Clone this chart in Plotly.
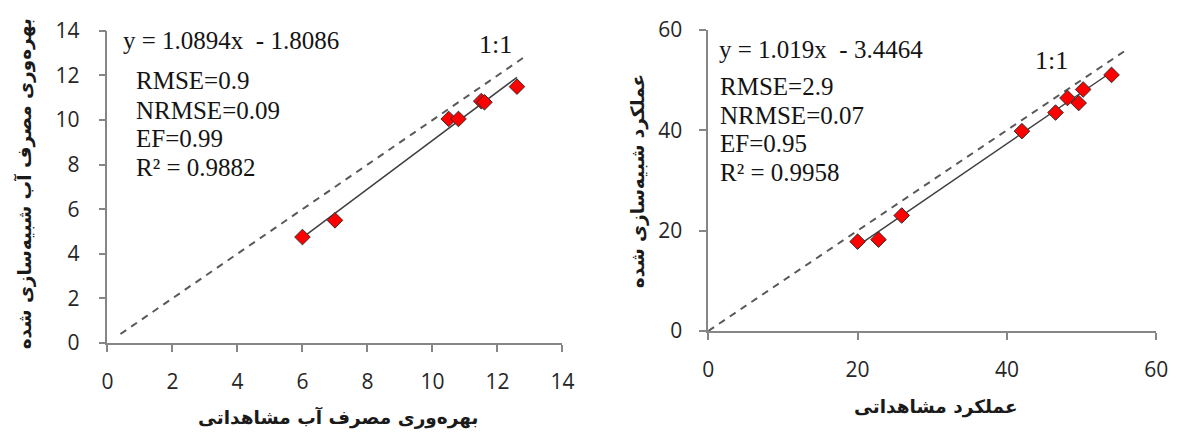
import plotly.graph_objects as go

W, H = 1191, 444

# ---------------- data ----------------
# Left panel: water productivity (observed vs simulated)
wp_obs = [6.0, 7.0, 10.5, 10.8, 11.5, 11.6, 12.6]
wp_sim = [4.75, 5.5, 10.05, 10.05, 10.85, 10.8, 11.5]
wp_slope, wp_intercept = 1.0894, -1.8086
wp_one_to_one = [0.4, 12.9]
wp_equation = "y = 1.0894x\u00a0 - 1.8086"
wp_stats = ["RMSE=0.9", "NRMSE=0.09", "EF=0.99", "R² = 0.9882"]
wp_ticks = [0, 2, 4, 6, 8, 10, 12, 14]
wp_xtitle = "بهره‌وری مصرف آب مشاهداتی"
wp_ytitle = "بهره‌وری مصرف آب شبیه‌سازی شده"

# Right panel: yield (observed vs simulated)
yl_obs = [20.0, 22.8, 25.9, 42.0, 46.5, 48.1, 49.6, 50.2, 54.0]
yl_sim = [17.8, 18.2, 23.0, 39.8, 43.5, 46.4, 45.4, 48.1, 51.0]
yl_slope, yl_intercept = 1.019, -3.4464
yl_one_to_one = [0.0, 56.0]
yl_equation = "y = 1.019x\u00a0 - 3.4464"
yl_stats = ["RMSE=2.9", "NRMSE=0.07", "EF=0.95", "R² = 0.9958"]
yl_ticks = [0, 20, 40, 60]
yl_xtitle = "عملکرد مشاهداتی"
yl_ytitle = "عملکرد شبیه‌سازی شده"

one_label = "1:1"

# ---------------- styles ----------------
SERIF = "Liberation Serif"
TICKFONT = dict(family="Open Sans", size=21, color="#262626")
AXIS_LINE = "#868686"
TXT = "#141414"


def trend(xs, slope, intercept):
    x0, x1 = min(xs), max(xs)
    return [x0, x1], [slope * x0 + intercept, slope * x1 + intercept]


fig = go.Figure()


def add_panel(obs, sim, slope, intercept, one, xa, ya):
    fig.add_trace(go.Scatter(x=one, y=one, mode="lines",
                             line=dict(color="#595959", width=2, dash="7px,6px"),
                             xaxis=xa, yaxis=ya, showlegend=False, hoverinfo="skip"))
    tx, ty = trend(obs, slope, intercept)
    fig.add_trace(go.Scatter(x=tx, y=ty, mode="lines",
                             line=dict(color="#404040", width=1.5),
                             xaxis=xa, yaxis=ya, showlegend=False, hoverinfo="skip"))
    fig.add_trace(go.Scatter(x=obs, y=sim, mode="markers",
                             marker=dict(symbol="diamond", size=12, color="#ff0000",
                                         line=dict(color="#303030", width=1)),
                             xaxis=xa, yaxis=ya, showlegend=False, cliponaxis=False))


add_panel(wp_obs, wp_sim, wp_slope, wp_intercept, wp_one_to_one, "x", "y")
add_panel(yl_obs, yl_sim, yl_slope, yl_intercept, yl_one_to_one, "x2", "y2")


def px_x(p):
    return p / W


def px_y(p):
    return 1 - p / H


axis_common = dict(showgrid=False, zeroline=False, showline=True, linecolor=AXIS_LINE,
                   linewidth=1.5, ticks="outside", tickcolor=AXIS_LINE, ticklen=7,
                   tickwidth=1.5, tickfont=TICKFONT, tickmode="array")

fig.update_layout(
    width=W, height=H,
    margin=dict(l=0, r=0, t=0, b=0),
    paper_bgcolor="white", plot_bgcolor="white",
    xaxis=dict(axis_common, domain=[px_x(103), px_x(565)], range=[0, 14],
               tickvals=wp_ticks, anchor="y", ticklabelstandoff=12),
    yaxis=dict(axis_common, domain=[px_y(350), px_y(17)], range=[0, 14],
               tickvals=wp_ticks, anchor="x", ticklabelstandoff=15),
    xaxis2=dict(axis_common, domain=[px_x(713), px_x(1168)], range=[0, 60],
                tickvals=yl_ticks, anchor="y2", ticklabelstandoff=12),
    yaxis2=dict(axis_common, domain=[px_y(337.3), px_y(15.7)], range=[0, 60],
                tickvals=yl_ticks, anchor="x2", ticklabelstandoff=13),
)

STATFONT = dict(family=SERIF, size=25, color=TXT)
ONEFONT = dict(family=SERIF, size=26, color=TXT)

ann = []
# left panel texts
ann.append(dict(x=0.42, y=13.58, xref="x", yref="y", text=wp_equation, showarrow=False,
                xanchor="left", yanchor="middle", font=STATFONT))
for s, yy in zip(wp_stats, [11.77, 10.42, 9.16, 7.86]):
    ann.append(dict(x=0.82, y=yy, xref="x", yref="y", text=s, showarrow=False,
                    xanchor="left", yanchor="middle", font=STATFONT))
ann.append(dict(x=11.95, y=13.41, xref="x", yref="y", text=one_label, showarrow=False,
                xanchor="center", yanchor="middle", font=ONEFONT))
# right panel texts
ann.append(dict(x=1.19, y=56.0, xref="x2", yref="y2", text=yl_equation, showarrow=False,
                xanchor="left", yanchor="middle", font=STATFONT))
for s, yy in zip(yl_stats, [48.6, 43.0, 37.4, 31.6]):
    ann.append(dict(x=1.3, y=yy, xref="x2", yref="y2", text=s, showarrow=False,
                    xanchor="left", yanchor="middle", font=STATFONT))
ann.append(dict(x=46.0, y=53.8, xref="x2", yref="y2", text=one_label, showarrow=False,
                xanchor="center", yanchor="middle", font=ONEFONT))

TITLEFONT = dict(family="DejaVu Sans", size=18.5, color="#1a1a1a", weight="bold")
ann.append(dict(x=px_x(337), y=px_y(430), xref="paper", yref="paper", text=wp_xtitle,
                showarrow=False, xanchor="center", yanchor="middle", font=TITLEFONT))
ann.append(dict(x=px_x(19), y=px_y(180), xref="paper", yref="paper", text=wp_ytitle,
                showarrow=False, xanchor="center", yanchor="middle", textangle=-90, font=TITLEFONT))
ann.append(dict(x=px_x(944), y=px_y(418), xref="paper", yref="paper", text=yl_xtitle,
                showarrow=False, xanchor="center", yanchor="middle", font=TITLEFONT))
ann.append(dict(x=px_x(642), y=px_y(177), xref="paper", yref="paper", text=yl_ytitle,
                showarrow=False, xanchor="center", yanchor="middle", textangle=-90, font=TITLEFONT))

fig.update_layout(annotations=ann)

fig.write_html("out.html", post_script="document.body.style.margin='0';")
